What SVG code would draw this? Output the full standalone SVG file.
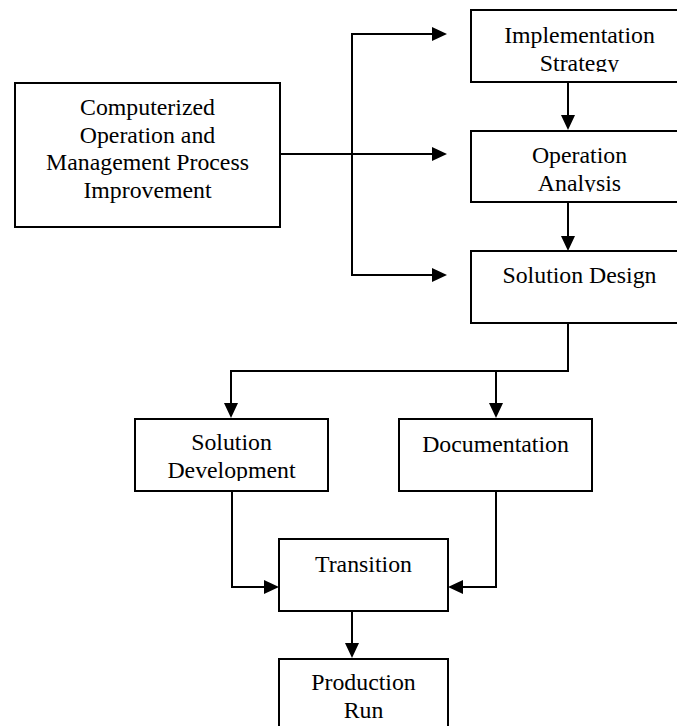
<svg xmlns="http://www.w3.org/2000/svg" width="677" height="726" viewBox="0 0 677 726">
<style>
  .box { fill: #ffffff; stroke: #000000; stroke-width: 2; }
  .lbl { font-family: "Liberation Serif", "Times New Roman", serif; font-size: 23.8px; fill: #000000; text-anchor: middle; }
  .conn { fill: none; stroke: #000000; stroke-width: 2; }
</style>
<defs>
  <marker id="arr" markerUnits="userSpaceOnUse" markerWidth="15" markerHeight="14" refX="0" refY="7" orient="auto" viewBox="0 0 15 14">
    <path d="M0,0 L15,7 L0,14 Z" fill="#000000"/>
  </marker>
  <clipPath id="cImpl"><rect x="471" y="10" width="217" height="62"/></clipPath>
  <clipPath id="cOp"><rect x="471" y="131" width="217" height="61"/></clipPath>
  <clipPath id="cDev"><rect x="135" y="419" width="193" height="62"/></clipPath>
</defs>
<rect width="677" height="726" fill="#ffffff"/>
<g id="connectors">
  <path class="conn" d="M280,154 H432" marker-end="url(#arr)"/>
  <path class="conn" d="M352,154 V34 H432" marker-end="url(#arr)"/>
  <path class="conn" d="M352,154 V275 H432" marker-end="url(#arr)"/>
  <path class="conn" d="M568,82 V115" marker-end="url(#arr)"/>
  <path class="conn" d="M568,202 V236" marker-end="url(#arr)"/>
  <path class="conn" d="M568,323 V371 H231 V403" marker-end="url(#arr)"/>
  <path class="conn" d="M496,371 V403" marker-end="url(#arr)"/>
  <path class="conn" d="M232,491 V587 H264" marker-end="url(#arr)"/>
  <path class="conn" d="M496,491 V587 H463" marker-end="url(#arr)"/>
  <path class="conn" d="M352,611 V643" marker-end="url(#arr)"/>
</g>
<g id="node-computerized">
  <rect class="box" x="15" y="83" width="265" height="144"/>
  <text class="lbl" x="147.5" y="115">Computerized</text>
  <text class="lbl" x="147.5" y="143">Operation and</text>
  <text class="lbl" x="147.5" y="170">Management Process</text>
  <text class="lbl" x="147.5" y="198">Improvement</text>
</g>
<g id="node-implementation">
  <rect class="box" x="471" y="10" width="217" height="72"/>
  <g clip-path="url(#cImpl)">
    <text class="lbl" x="579.5" y="43">Implementation</text>
    <text class="lbl" x="579.5" y="71">Strategy</text>
  </g>
</g>
<g id="node-operation">
  <rect class="box" x="471" y="131" width="217" height="71"/>
  <g clip-path="url(#cOp)">
    <text class="lbl" x="579.5" y="163">Operation</text>
    <text class="lbl" x="579.5" y="191">Analysis</text>
  </g>
</g>
<g id="node-solution-design">
  <rect class="box" x="471" y="251" width="217" height="72"/>
  <text class="lbl" x="579.5" y="283">Solution Design</text>
</g>
<g id="node-solution-development">
  <rect class="box" x="135" y="419" width="193" height="72"/>
  <g clip-path="url(#cDev)">
    <text class="lbl" x="231.5" y="450">Solution</text>
    <text class="lbl" x="231.5" y="478">Development</text>
  </g>
</g>
<g id="node-documentation">
  <rect class="box" x="399" y="419" width="193" height="72"/>
  <text class="lbl" x="495.5" y="452">Documentation</text>
</g>
<g id="node-transition">
  <rect class="box" x="279" y="539" width="169" height="72"/>
  <text class="lbl" x="363.5" y="572">Transition</text>
</g>
<g id="node-production">
  <rect class="box" x="279" y="659" width="169" height="72"/>
  <text class="lbl" x="363.5" y="690">Production</text>
  <text class="lbl" x="363.5" y="718">Run</text>
</g>
</svg>
